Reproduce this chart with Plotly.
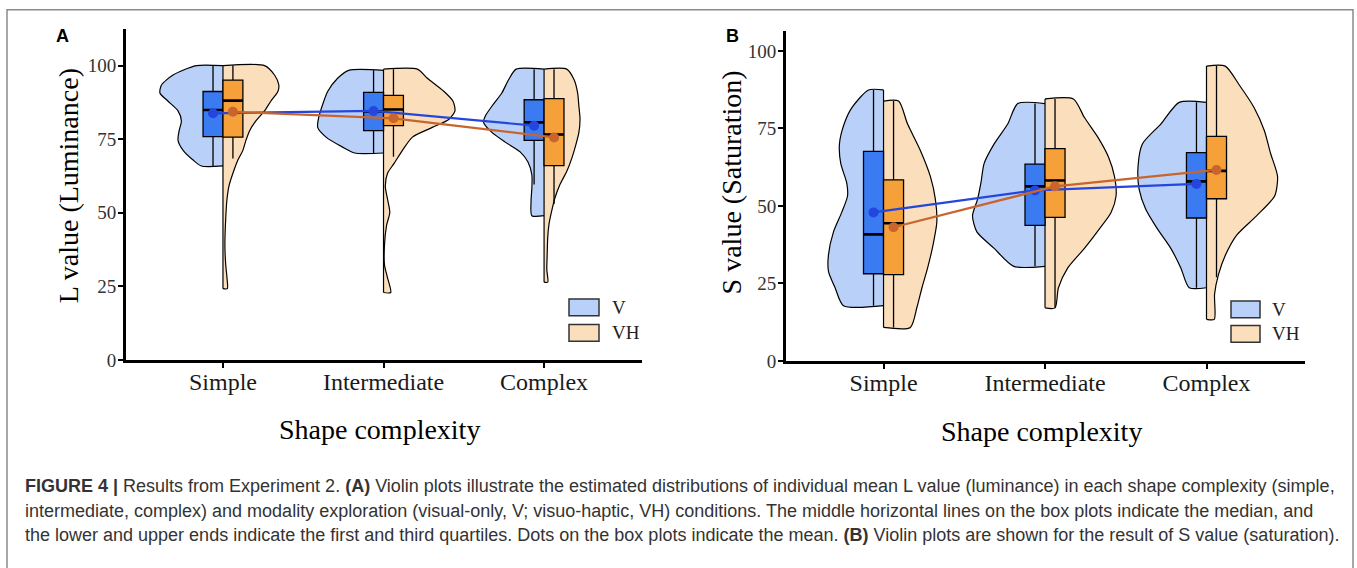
import plotly.graph_objects as go

W, H = 1357, 568

# ---------------- data ----------------
categories = ["Simple", "Intermediate", "Complex"]
positions = [1, 2, 3]

# Panel A: L value (Luminance) -- box statistics
L_V_q1 = [75.9, 77.9, 74.6]
L_V_median = [84.9, 84.4, 80.7]
L_V_q3 = [91.2, 90.9, 88.4]
L_V_low = [65.9, 70.3, 59.6]
L_V_high = [100.0, 98.4, 98.8]
L_V_mean = [83.8, 84.6, 79.6]

L_VH_q1 = [75.7, 79.6, 66.0]
L_VH_median = [88.1, 85.1, 76.6]
L_VH_q3 = [95.1, 89.9, 88.8]
L_VH_low = [68.4, 69.0, 53.0]
L_VH_high = [100.0, 98.8, 98.8]
L_VH_mean = [84.3, 82.1, 75.6]

# Panel B: S value (Saturation) -- box statistics
S_V_q1 = [28.1, 43.7, 46.1]
S_V_median = [40.8, 56.3, 57.9]
S_V_q3 = [67.6, 63.5, 67.2]
S_V_low = [17.8, 30.5, 23.6]
S_V_high = [87.4, 83.0, 83.4]
S_V_mean = [47.9, 55.0, 57.1]

S_VH_q1 = [27.8, 46.3, 52.3]
S_VH_median = [44.4, 58.2, 61.3]
S_VH_q3 = [58.4, 68.5, 72.4]
S_VH_low = [10.8, 17.1, 27.0]
S_VH_high = [83.8, 84.5, 95.1]
S_VH_mean = [43.1, 56.3, 61.6]

# Violin density profiles (value levels, top -> bottom, and half-widths in category units)
L_V_levels = [
    [100, 96.8, 93.4, 90.7, 87.9, 84.6, 81.2, 77.9, 74.6, 71.2, 67.9, 65.9],
    [98.4, 95.7, 91.2, 86.8, 82.3, 79.0, 75.7, 72.3, 70.3],
    [98.8, 95.1, 90.7, 86.2, 82.9, 80.7, 77.3, 74.0, 70.7, 67.3, 62.9, 58.4, 54.0, 49.0],
]
L_V_widths = [
    [0.166, 0.311, 0.383, 0.393, 0.342, 0.280, 0.259, 0.273, 0.280, 0.248, 0.186, 0.135],
    [0.217, 0.286, 0.348, 0.379, 0.404, 0.410, 0.358, 0.255, 0.180],
    [0.174, 0.222, 0.263, 0.325, 0.366, 0.377, 0.325, 0.242, 0.149, 0.101, 0.076, 0.076, 0.081, 0.076],
]
L_VH_levels = [
    [100, 96.8, 93.4, 91.2, 87.9, 84.6, 81.2, 77.9, 74.6, 71.2, 67.9, 63.4, 59.0, 54.6, 47.9, 39.0, 32.4, 27.9, 24.2],
    [98.8, 95.7, 91.2, 87.9, 84.6, 81.8, 79.0, 75.7, 71.2, 66.8, 63.4, 59.0, 54.6, 50.1, 45.7, 39.0, 32.3, 27.9, 22.9],
    [98.8, 95.1, 90.7, 86.2, 81.8, 77.3, 72.9, 68.4, 64.0, 59.6, 55.1, 50.7, 46.2, 41.8, 35.1, 30.7, 26.4],
]
L_VH_widths = [
    [0.259, 0.321, 0.348, 0.342, 0.298, 0.259, 0.205, 0.166, 0.143, 0.124, 0.093, 0.062, 0.037, 0.025, 0.017, 0.012, 0.017, 0.025, 0.027],
    [0.211, 0.273, 0.377, 0.433, 0.445, 0.408, 0.304, 0.180, 0.118, 0.066, 0.025, 0.011, 0.025, 0.039, 0.019, 0.006, 0.006, 0.025, 0.045],
    [0.141, 0.188, 0.209, 0.217, 0.224, 0.217, 0.197, 0.172, 0.141, 0.099, 0.068, 0.048, 0.031, 0.023, 0.019, 0.017, 0.023],
]
S_V_levels = [
    [87.4, 81.6, 76.4, 70.0, 63.7, 57.4, 53.2, 47.9, 41.6, 34.2, 28.9, 23.6, 17.8],
    [83.0, 76.4, 70.0, 63.7, 57.4, 52.1, 46.8, 41.6, 36.3, 30.5],
    [83.4, 76.4, 70.0, 62.7, 55.3, 49.0, 42.6, 36.3, 30.0, 23.6],
]
S_V_widths = [
    [0.093, 0.197, 0.244, 0.273, 0.265, 0.228, 0.223, 0.259, 0.310, 0.341, 0.341, 0.300, 0.248],
    [0.169, 0.231, 0.315, 0.377, 0.397, 0.418, 0.449, 0.422, 0.315, 0.194],
    [0.169, 0.283, 0.397, 0.424, 0.417, 0.377, 0.304, 0.221, 0.159, 0.107],
]
S_VH_levels = [
    [83.8, 76.4, 67.9, 59.5, 52.1, 44.7, 37.3, 30.0, 23.6, 17.3, 10.8],
    [84.5, 78.5, 72.2, 65.8, 59.5, 53.2, 47.9, 42.6, 36.3, 30.0, 23.6, 17.1],
    [95.1, 89.0, 81.6, 74.3, 66.9, 59.5, 53.2, 46.8, 40.5, 34.2, 27.8, 21.5, 13.4],
]
S_VH_widths = [
    [0.093, 0.149, 0.228, 0.290, 0.321, 0.330, 0.306, 0.273, 0.238, 0.207, 0.166],
    [0.176, 0.244, 0.327, 0.393, 0.430, 0.440, 0.409, 0.337, 0.244, 0.141, 0.083, 0.062],
    [0.116, 0.203, 0.296, 0.358, 0.397, 0.440, 0.422, 0.310, 0.186, 0.118, 0.074, 0.050, 0.048],
]

legend_labels = ["V", "VH"]

# ---------------- styles ----------------
V_VIOLIN = "#B9D0F8"
VH_VIOLIN = "#FBDEBB"
V_BOX = "#3A7BF2"
VH_BOX = "#F6A03A"
V_LINE = "#2546DC"
VH_LINE = "#C8642D"
SERIF = "Liberation Serif, Times New Roman, serif"
SANS = "Liberation Sans, Arial, sans-serif"
BOX_W = 0.124
OFF = BOX_W / 2


def px_x(px):
    return px / W


def px_y(py):
    return 1 - py / H


fig = go.Figure()


def add_half_violin(pos, levels, widths, side, color, xa, ya):
    sgn = -1 if side == "left" else 1
    xs = [pos] + [pos + sgn * w for w in widths] + [pos]
    ys = [levels[0]] + list(levels) + [levels[-1]]
    fig.add_trace(go.Scatter(
        x=xs, y=ys, mode="lines", fill="toself", fillcolor=color,
        line=dict(color="black", width=1.2, shape="spline", smoothing=0.7),
        hoverinfo="skip", showlegend=False, xaxis=xa, yaxis=ya))


def add_panel(V_levels, V_widths, VH_levels, VH_widths, stats_V, stats_VH, base, over):
    bx, by = base
    ox, oy = over
    for i, pos in enumerate(positions):
        add_half_violin(pos, V_levels[i], V_widths[i], "left", V_VIOLIN, bx, by)
        add_half_violin(pos, VH_levels[i], VH_widths[i], "right", VH_VIOLIN, bx, by)
    sx, sy = [], []
    for i, pos in enumerate(positions):
        sx += [pos, pos, None]
        sy += [min(V_levels[i][-1], VH_levels[i][-1]), max(V_levels[i][0], VH_levels[i][0]), None]
    fig.add_trace(go.Scatter(x=sx, y=sy, mode="lines", line=dict(color="black", width=1.2),
                             hoverinfo="skip", showlegend=False, xaxis=bx, yaxis=by))
    for stats, off, col in [(stats_V, -OFF, V_BOX), (stats_VH, OFF, VH_BOX)]:
        q1, med, q3, lo, hi, mean = stats
        xs = [p + off for p in positions]
        fig.add_trace(go.Box(
            x=xs, q1=q1, median=med, q3=q3, lowerfence=lo, upperfence=hi,
            width=BOX_W, fillcolor=col, line=dict(color="black", width=1.3),
            whiskerwidth=0, boxpoints=False, hoverinfo="skip", showlegend=False,
            xaxis=ox, yaxis=oy))
        mx, my = [], []
        for x, m in zip(xs, med):
            mx += [x - BOX_W / 2, x + BOX_W / 2, None]
            my += [m, m, None]
        fig.add_trace(go.Scatter(x=mx, y=my, mode="lines", line=dict(color="black", width=2.6),
                                 hoverinfo="skip", showlegend=False, xaxis=ox, yaxis=oy))
    for stats, off, col in [(stats_V, -OFF, V_LINE), (stats_VH, OFF, VH_LINE)]:
        fig.add_trace(go.Scatter(
            x=[p + off for p in positions], y=stats[5], mode="lines+markers",
            line=dict(color=col, width=2.2), marker=dict(color=col, size=10),
            hoverinfo="skip", showlegend=False, xaxis=ox, yaxis=oy))


add_panel(L_V_levels, L_V_widths, L_VH_levels, L_VH_widths,
          (L_V_q1, L_V_median, L_V_q3, L_V_low, L_V_high, L_V_mean),
          (L_VH_q1, L_VH_median, L_VH_q3, L_VH_low, L_VH_high, L_VH_mean),
          ("x", "y"), ("x3", "y3"))
add_panel(S_V_levels, S_V_widths, S_VH_levels, S_VH_widths,
          (S_V_q1, S_V_median, S_V_q3, S_V_low, S_V_high, S_V_mean),
          (S_VH_q1, S_VH_median, S_VH_q3, S_VH_low, S_VH_high, S_VH_mean),
          ("x2", "y2"), ("x4", "y4"))

XR = [0.396, 3.61]
YR_A = [0, 112.3]
YR_B = [0, 106.3]

xaxis_common = dict(range=XR, showline=True, linecolor="black", linewidth=3, ticks="outside",
                    ticklen=5, tickwidth=1.5, tickcolor="black", tickvals=positions,
                    ticktext=categories, showgrid=False, zeroline=False, ticklabelstandoff=-7,
                    tickfont=dict(family=SERIF, size=24, color="#1a1a1a"), fixedrange=True)
yaxis_common = dict(showline=True, linecolor="black", linewidth=3, ticks="outside",
                    ticklen=5, tickwidth=1.5, tickcolor="black", tickvals=[0, 25, 50, 75, 100],
                    showgrid=False, zeroline=False, ticklabelstandoff=-2,
                    tickfont=dict(family=SERIF, size=19, color="#333333"), fixedrange=True)

fig.update_layout(
    width=W, height=H, margin=dict(l=0, r=0, t=0, b=0),
    paper_bgcolor="white", plot_bgcolor="rgba(0,0,0,0)",
    xaxis=dict(domain=[px_x(126), px_x(642)], anchor="y", **xaxis_common),
    yaxis=dict(domain=[px_y(367), px_y(30)], anchor="x", range=YR_A, **yaxis_common),
    xaxis2=dict(domain=[px_x(786), px_x(1305)], anchor="y2", **xaxis_common),
    yaxis2=dict(domain=[px_y(368), px_y(32)], anchor="x2", range=YR_B, **yaxis_common),
    xaxis3=dict(overlaying="x", anchor="y3", range=XR, visible=False, fixedrange=True),
    yaxis3=dict(overlaying="y", anchor="x3", range=YR_A, visible=False, fixedrange=True),
    xaxis4=dict(overlaying="x2", anchor="y4", range=XR, visible=False, fixedrange=True),
    yaxis4=dict(overlaying="y2", anchor="x4", range=YR_B, visible=False, fixedrange=True),
    showlegend=False,
)

shapes = []
annotations = []

# outer frame
shapes.append(dict(type="rect", xref="paper", yref="paper", x0=px_x(7), x1=px_x(1353),
                   y0=-0.05, y1=px_y(10), line=dict(color="#8a8a8a", width=1.5), layer="below"))

# legends (one per panel)
for kx0, kx1, ky, tx in [(569, 599, [(305, 322), (331, 348)], 610),
                         (1231, 1260, [(307, 324), (332, 349)], 1270)]:
    for (y0, y1), col, lab in zip(ky, [V_VIOLIN, VH_VIOLIN], legend_labels):
        shapes.append(dict(type="rect", xref="paper", yref="paper", x0=px_x(kx0), x1=px_x(kx1),
                           y0=px_y(y1), y1=px_y(y0), fillcolor=col,
                           line=dict(color="#333333", width=1.5)))
        annotations.append(dict(xref="paper", yref="paper", x=px_x(tx), y=px_y((y0 + y1) / 2),
                                text=lab, showarrow=False, xanchor="left", yanchor="middle",
                                font=dict(family=SERIF, size=19, color="#222222")))

# axis titles and panel letters
annotations += [
    dict(xref="paper", yref="paper", x=px_x(379), y=px_y(438), text="Shape complexity",
         showarrow=False, xanchor="center", yanchor="middle",
         font=dict(family=SERIF, size=28, color="black")),
    dict(xref="paper", yref="paper", x=px_x(1041), y=px_y(440), text="Shape complexity",
         showarrow=False, xanchor="center", yanchor="middle",
         font=dict(family=SERIF, size=28, color="black")),
    dict(xref="paper", yref="paper", x=px_x(68), y=px_y(190), text="L value (Luminance)",
         showarrow=False, textangle=-90, xanchor="center", yanchor="middle",
         font=dict(family=SERIF, size=28, color="black")),
    dict(xref="paper", yref="paper", x=px_x(731), y=px_y(186), text="S value (Saturation)",
         showarrow=False, textangle=-90, xanchor="center", yanchor="middle",
         font=dict(family=SERIF, size=28, color="black")),
    dict(xref="paper", yref="paper", x=px_x(62), y=px_y(37), text="<b>A</b>",
         showarrow=False, xanchor="center", yanchor="middle",
         font=dict(family=SANS, size=18, color="black")),
    dict(xref="paper", yref="paper", x=px_x(732), y=px_y(37), text="<b>B</b>",
         showarrow=False, xanchor="center", yanchor="middle",
         font=dict(family=SANS, size=18, color="black")),
]

caption_lines = [
    "<b>FIGURE 4 |</b> Results from Experiment 2. <b>(A)</b> Violin plots illustrate the estimated distributions of individual mean L value (luminance) in each shape complexity (simple,",
    "intermediate, complex) and modality exploration (visual-only, V; visuo-haptic, VH) conditions. The middle horizontal lines on the box plots indicate the median, and",
    "the lower and upper ends indicate the first and third quartiles. Dots on the box plots indicate the mean. <b>(B)</b> Violin plots are shown for the result of S value (saturation).",
]
for i, line in enumerate(caption_lines):
    annotations.append(dict(xref="paper", yref="paper", x=px_x(23), y=px_y(496 + 25 * i),
                            text=line, showarrow=False, xanchor="left", yanchor="middle",
                            font=dict(family=SANS, size=18, color="#333333")))

fig.update_layout(shapes=shapes, annotations=annotations)
fig.write_html("out.html", config={"displayModeBar": False},
               post_script="document.body.style.margin='0';document.body.style.overflow='hidden';")
